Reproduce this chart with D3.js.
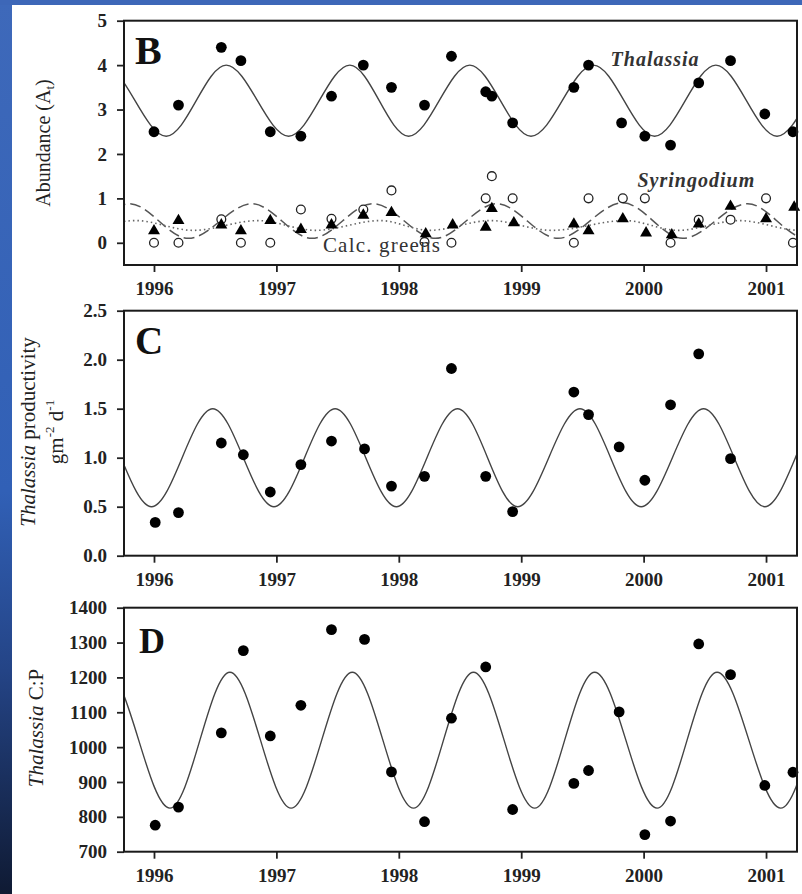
<!DOCTYPE html>
<html>
<head>
<meta charset="utf-8">
<script src="https://cdn.jsdelivr.net/npm/d3@7"></script>
<style>
  body { margin: 0; background: #fff; }
  svg { display: block; }
  text { font-family: "Liberation Serif", "Times New Roman", serif; }
</style>
</head>
<body>
<div id="viz"></div>
<script>
// ---- data (decimal years) ----
var thalDates = [1996.00, 1996.20, 1996.55, 1996.71, 1996.95, 1997.20, 1997.45, 1997.71, 1997.94, 1998.21, 1998.43, 1998.71, 1998.76, 1998.93, 1999.43, 1999.55, 1999.82, 2000.01, 2000.22, 2000.45, 2000.71, 2000.99, 2001.22]
var thalAbund = [2.5, 3.1, 4.4, 4.1, 2.5, 2.4, 3.3, 4.0, 3.5, 3.1, 4.2, 3.4, 3.3, 2.7, 3.5, 4.0, 2.7, 2.4, 2.2, 3.6, 4.1, 2.9, 2.5]

var circleDates = [1996.00, 1996.20, 1996.55, 1996.71, 1996.95, 1997.20, 1997.45, 1997.71, 1997.94, 1998.21, 1998.43, 1998.71, 1998.76, 1998.93, 1999.43, 1999.55, 1999.83, 2000.01, 2000.22, 2000.45, 2000.71, 2001.00, 2001.22]
var circleAbund = [0, 0, 0.53, 0, 0, 0.75, 0.54, 0.75, 1.18, 0.02, 0, 1.0, 1.5, 1.0, 0, 1.0, 1.0, 1.0, 0, 0.52, 0.52, 1.0, 0]

var triDates = [1996.00, 1996.20, 1996.55, 1996.71, 1996.95, 1997.20, 1997.45, 1997.71, 1997.94, 1998.22, 1998.44, 1998.71, 1998.76, 1998.94, 1999.43, 1999.55, 1999.83, 2000.02, 2000.23, 2000.45, 2000.71, 2001.00, 2001.23]
var triAbund = [0.27, 0.5, 0.4, 0.27, 0.5, 0.3, 0.4, 0.62, 0.68, 0.2, 0.4, 0.35, 0.77, 0.45, 0.42, 0.27, 0.54, 0.22, 0.18, 0.42, 0.82, 0.54, 0.8]

var prodDates = [1996.01, 1996.20, 1996.55, 1996.73, 1996.95, 1997.20, 1997.45, 1997.72, 1997.94, 1998.21, 1998.43, 1998.71, 1998.93, 1999.43, 1999.55, 1999.80, 2000.01, 2000.22, 2000.45, 2000.71]
var prodVals = [0.34, 0.44, 1.15, 1.03, 0.65, 0.93, 1.17, 1.09, 0.71, 0.81, 1.91, 0.81, 0.45, 1.67, 1.44, 1.11, 0.77, 1.54, 2.06, 0.99]

var cpDates = [1996.01, 1996.20, 1996.55, 1996.73, 1996.95, 1997.20, 1997.45, 1997.72, 1997.94, 1998.21, 1998.43, 1998.71, 1998.93, 1999.43, 1999.55, 1999.80, 2000.01, 2000.22, 2000.45, 2000.71, 2000.99, 2001.22]
var cpVals = [776, 828, 1041, 1277, 1032, 1120, 1337, 1309, 929, 786, 1083, 1230, 821, 896, 933, 1101, 749, 788, 1296, 1208, 890, 928]

// fitted seasonal curves: turning points (one extra past each edge)
var thalFitX = [1995.10, 1995.59, 1996.10, 1996.59, 1997.10, 1997.60, 1998.08, 1998.58, 1999.08, 1999.59, 2000.09, 2000.59, 2001.09, 2001.59, 2002.09]
var thalFitY = [2.4, 4.0, 2.4, 4.0, 2.4, 4.0, 2.4, 4.0, 2.4, 4.0, 2.4, 4.0, 2.4, 4.0, 2.4]
var dashFitX = [1994.80, 1995.30, 1995.80, 1996.28, 1996.80, 1997.29, 1997.79, 1998.30, 1998.80, 1999.30, 1999.83, 2000.32, 2000.85, 2001.33, 2001.85, 2002.33]
var dashFitY = [0.88, 0.1, 0.88, 0.1, 0.88, 0.1, 0.88, 0.1, 0.88, 0.1, 0.9, 0.1, 0.88, 0.1, 0.88, 0.1]
var dotFitX = [1994.85, 1995.35, 1995.85, 1996.32, 1996.85, 1997.32, 1997.85, 1998.25, 1998.75, 1999.25, 1999.85, 2000.28, 2000.78, 2001.28, 2001.78, 2002.28]
var dotFitY = [0.5, 0.28, 0.5, 0.28, 0.5, 0.28, 0.5, 0.28, 0.5, 0.28, 0.5, 0.28, 0.5, 0.28, 0.5, 0.28]
var prodFitX = [1994.98, 1995.48, 1995.98, 1996.48, 1996.98, 1997.48, 1997.98, 1998.48, 1998.97, 1999.48, 1999.98, 2000.49, 2000.99, 2001.49, 2001.99]
var prodFitY = [0.5, 1.5, 0.5, 1.5, 0.5, 1.5, 0.5, 1.5, 0.5, 1.5, 0.5, 1.5, 0.5, 1.5, 0.5]
var cpFitX = [1995.12, 1995.62, 1996.13, 1996.62, 1997.12, 1997.62, 1998.12, 1998.61, 1999.11, 1999.60, 2000.11, 2000.60, 2001.12, 2001.62, 2002.12]
var cpFitY = [825, 1215, 825, 1215, 825, 1215, 825, 1215, 825, 1215, 825, 1215, 825, 1215, 825]

var yearTicks = [1996, 1997, 1998, 1999, 2000, 2001]
var abundTicks = [0, 1, 2, 3, 4, 5]
var prodTicks = [0, 0.5, 1.0, 1.5, 2.0, 2.5]
var cpTicks = [700, 800, 900, 1000, 1100, 1200, 1300, 1400]

// ---- layout ----
var W = 802, H = 894
var svg = d3.select('#viz').append('svg').attr('width', W).attr('height', H)

var defs = svg.append('defs')
var grad = defs.append('linearGradient').attr('id', 'band').attr('x1', 0).attr('y1', 0).attr('x2', 0).attr('y2', 1)
grad.append('stop').attr('offset', '0%').attr('stop-color', '#3e69ba')
grad.append('stop').attr('offset', '55%').attr('stop-color', '#3160b6')
grad.append('stop').attr('offset', '75%').attr('stop-color', '#244486')
grad.append('stop').attr('offset', '100%').attr('stop-color', '#0f1a33')

svg.append('rect').attr('width', W).attr('height', H).attr('fill', '#fff')
svg.append('rect').attr('x', 0).attr('y', 0).attr('width', 12).attr('height', H).attr('fill', 'url(#band)')
svg.append('rect').attr('x', 0).attr('y', 0).attr('width', W).attr('height', 5).attr('fill', '#3d67b8')

var x = d3.scaleLinear().domain([1995.755, 2001.253]).range([124, 797])

var fitLine = function(xs, ys, yScale) {
  var pts = xs.map(function(d, i) { return [x(d), yScale(ys[i])] })
  return d3.line().curve(d3.curveMonotoneX)(pts)
}

function panel(id, top, bottom, domain, ticks, fmt) {
  var y = d3.scaleLinear().domain(domain).range([bottom, top])
  var g = svg.append('g')
  defs.append('clipPath').attr('id', 'clip' + id)
    .append('rect').attr('x', x.range()[0]).attr('y', top)
    .attr('width', x.range()[1] - x.range()[0]).attr('height', bottom - top)

  var yAxis = d3.axisLeft(y).tickValues(ticks).tickFormat(fmt).tickSize(7).tickPadding(10).tickSizeOuter(0)
  var xAxis = d3.axisBottom(x).tickValues(yearTicks).tickFormat(d3.format('d')).tickSize(7).tickPadding(10).tickSizeOuter(0)
  var ya = g.append('g').attr('transform', 'translate(' + x.range()[0] + ',0)').call(yAxis)
  var xa = g.append('g').attr('transform', 'translate(0,' + bottom + ')').call(xAxis)
  ;[ya, xa].forEach(function(a) {
    a.select('.domain').remove()
    a.selectAll('line').attr('stroke', '#222').attr('stroke-width', 1.8)
    a.selectAll('text').attr('font-size', 19).attr('font-weight', 'bold').attr('fill', '#222')
  })

  var plot = g.append('g').attr('clip-path', 'url(#clip' + id + ')')
  return { g: g, plot: plot, y: y, top: top, bottom: bottom }
}

function frame(p) {
  p.g.append('rect').attr('x', x.range()[0]).attr('y', p.top)
    .attr('width', x.range()[1] - x.range()[0]).attr('height', p.bottom - p.top)
    .attr('fill', 'none').attr('stroke', '#1a1a1a').attr('stroke-width', 2)
}

function dots(p, dates, vals, r) {
  p.g.append('g').selectAll('circle').data(vals).enter().append('circle')
    .attr('cx', function(d, i) { return x(dates[i]) })
    .attr('cy', function(d) { return p.y(d) })
    .attr('r', r).attr('fill', '#000')
}

function curve(p, xs, ys, dash, color, w) {
  p.plot.append('path').attr('d', fitLine(xs, ys, p.y))
    .attr('fill', 'none').attr('stroke', color).attr('stroke-width', w)
    .attr('stroke-dasharray', dash)
}

function letter(p, txt, size, dx, base) {
  p.g.append('text').attr('x', x.range()[0] + dx).attr('y', p.top + base)
    .attr('font-size', size).attr('font-weight', 'bold').attr('fill', '#111').text(txt)
}

// ---- panel B ----
var pB = panel('B', 20.7, 265, [-0.5, 5], abundTicks, d3.format('d'))
curve(pB, thalFitX, thalFitY, null, '#444', 1.4)
curve(pB, dashFitX, dashFitY, '11,5', '#555', 1.5)
curve(pB, dotFitX, dotFitY, '1.5,3', '#666', 1.6)
dots(pB, thalDates, thalAbund, 5.4)
pB.g.append('g').selectAll('circle').data(circleAbund).enter().append('circle')
  .attr('cx', function(d, i) { return x(circleDates[i]) })
  .attr('cy', function(d) { return pB.y(d) })
  .attr('r', 4.4).attr('fill', '#fff').attr('stroke', '#222').attr('stroke-width', 1.3)
pB.g.append('g').selectAll('path').data(triAbund).enter().append('path')
  .attr('d', d3.symbol().type(d3.symbolTriangle).size(62))
  .attr('transform', function(d, i) { return 'translate(' + x(triDates[i]) + ',' + pB.y(d) + ')' })
  .attr('fill', '#000')
frame(pB)
letter(pB, 'B', 40, 11, 43)
pB.g.append('text').attr('x', x(1999.73)).attr('y', pB.y(3.97))
  .attr('font-size', 20).attr('font-style', 'italic').attr('font-weight', 'bold')
  .attr('letter-spacing', 1).attr('fill', '#333').text('Thalassia')
pB.g.append('text').attr('x', x(1999.95)).attr('y', pB.y(1.26))
  .attr('font-size', 20).attr('font-style', 'italic').attr('font-weight', 'bold')
  .attr('letter-spacing', 1).attr('fill', '#333').text('Syringodium')
pB.g.append('text').attr('x', x(1997.38)).attr('y', pB.y(-0.21))
  .attr('font-size', 21).attr('letter-spacing', 1.2).attr('fill', '#333').text('Calc. greens')
var tB = pB.g.append('text').attr('transform', 'translate(50,' + 143 + ') rotate(-90)')
  .attr('text-anchor', 'middle').attr('font-size', 20).attr('fill', '#222')
tB.append('tspan').text('Abundance (A')
tB.append('tspan').attr('font-size', 13).attr('dy', 4).text('t')
tB.append('tspan').attr('dy', -4).text(')')

// ---- panel C ----
var pC = panel('C', 310.7, 555.7, [0, 2.5], prodTicks, d3.format('.1f'))
curve(pC, prodFitX, prodFitY, null, '#444', 1.4)
dots(pC, prodDates, prodVals, 5.4)
frame(pC)
letter(pC, 'C', 39, 11, 43)
var tC1 = pC.g.append('text').attr('transform', 'translate(35,432) rotate(-90)')
  .attr('text-anchor', 'middle').attr('font-size', 21).attr('fill', '#222')
tC1.append('tspan').attr('font-style', 'italic').text('Thalassia')
tC1.append('tspan').text(' productivity')
var tC2 = pC.g.append('text').attr('transform', 'translate(63,432) rotate(-90)')
  .attr('text-anchor', 'middle').attr('font-size', 21).attr('fill', '#222')
tC2.append('tspan').text('gm')
tC2.append('tspan').attr('font-size', 13).attr('dy', -9).text('-2')
tC2.append('tspan').attr('dy', 9).text(' d')
tC2.append('tspan').attr('font-size', 13).attr('dy', -9).text('-1')

// ---- panel D ----
var pD = panel('D', 607.7, 851.7, [700, 1400], cpTicks, d3.format('d'))
curve(pD, cpFitX, cpFitY, null, '#444', 1.4)
dots(pD, cpDates, cpVals, 5.4)
frame(pD)
letter(pD, 'D', 36, 15, 45)
var tD = pD.g.append('text').attr('transform', 'translate(43,728) rotate(-90)')
  .attr('text-anchor', 'middle').attr('font-size', 21).attr('fill', '#222')
tD.append('tspan').attr('font-style', 'italic').text('Thalassia')
tD.append('tspan').text(' C:P')
</script>
</body>
</html>
